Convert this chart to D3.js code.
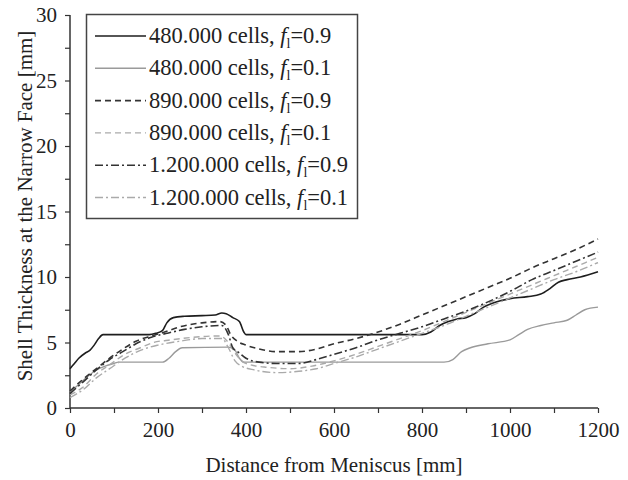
<!DOCTYPE html>
<html><head><meta charset="utf-8">
<script src="https://cdn.jsdelivr.net/npm/d3@7/dist/d3.min.js"></script>
<style>body{margin:0;background:#fff}svg{display:block}svg text{font-family:'Liberation Serif','Times New Roman',Times,'DejaVu Serif',serif !important;fill:#222}</style>
</head><body>
<svg id="c" width="628" height="480"></svg>
<script>
const xTicks = [0,200,400,600,800,1000,1200];
const yTicks = [0,5,10,15,20,25,30];
const seriesNames = ["480.000 cells, ","480.000 cells, ","890.000 cells, ","890.000 cells, ","1.200.000 cells, ","1.200.000 cells, "];
const seriesF = ["0.9","0.1","0.9","0.1","0.9","0.1"];
const s480_09 = [[0,3.0],[10,3.4],[20,3.8],[35,4.2],[45,4.4],[55,4.8],[65,5.3],[75,5.6],[180,5.6],[195,5.7],[210,5.9],[220,6.5],[235,6.9],[260,7.0],[300,7.05],[330,7.1],[345,7.25],[355,7.2],[370,6.9],[385,6.6],[395,5.8],[400,5.6],[800,5.6],[820,5.8],[840,6.3],[860,6.6],[880,6.8],[900,6.9],[920,7.2],[940,7.7],[960,8.0],[980,8.2],[1000,8.35],[1040,8.5],[1070,8.7],[1090,9.1],[1110,9.6],[1130,9.8],[1160,10.0],[1200,10.4]];
const s480_01 = [[0,1.2],[20,1.8],[40,2.4],[60,2.9],[80,3.2],[100,3.4],[110,3.5],[210,3.5],[225,3.8],[240,4.3],[255,4.6],[360,4.65],[375,4.4],[385,3.8],[395,3.5],[850,3.5],[870,3.7],[890,4.3],[910,4.6],[950,4.9],[1000,5.2],[1020,5.6],[1040,6.0],[1070,6.3],[1100,6.5],[1130,6.7],[1150,7.1],[1170,7.5],[1200,7.7]];
const s890_09 = [[0,1.3],[30,2.2],[60,3.0],[90,3.8],[120,4.5],[150,5.1],[185,5.5],[215,5.8],[250,6.2],[300,6.5],[340,6.6],[355,6.3],[365,5.6],[380,5.1],[400,4.8],[430,4.5],[470,4.3],[520,4.3],[560,4.5],[600,4.9],[650,5.3],[700,5.8],[750,6.4],[800,7.1],[850,7.8],[900,8.5],[950,9.2],[1000,9.9],[1050,10.7],[1100,11.4],[1150,12.1],[1200,12.9]];
const s890_01 = [[0,1.0],[30,1.6],[60,2.6],[90,3.3],[125,4.1],[160,4.6],[190,5.0],[230,5.2],[280,5.4],[340,5.5],[360,5.0],[375,4.2],[390,3.6],[410,3.3],[450,3.1],[500,3.0],[550,3.2],[600,3.6],[650,4.1],[700,4.7],[750,5.3],[800,5.9],[850,6.6],[900,7.3],[950,8.0],[1000,8.7],[1050,9.4],[1100,10.1],[1150,10.8],[1200,11.5]];
const s1200_09 = [[0,1.1],[30,2.0],[60,2.9],[90,3.7],[120,4.3],[150,4.9],[185,5.4],[220,5.7],[260,6.0],[300,6.2],[345,6.3],[360,5.6],[370,4.6],[385,4.2],[400,3.8],[430,3.5],[470,3.4],[520,3.4],[560,3.7],[600,4.1],[650,4.6],[700,5.2],[750,5.7],[800,6.2],[850,6.8],[900,7.4],[950,8.1],[1000,8.9],[1050,9.8],[1100,10.5],[1150,11.2],[1200,11.9]];
const s1200_01 = [[0,0.8],[30,1.4],[60,2.3],[90,3.0],[125,3.8],[160,4.4],[200,4.8],[250,5.1],[300,5.3],[345,5.3],[360,4.6],[375,3.6],[390,3.2],[420,2.9],[470,2.7],[520,2.8],[560,3.0],[600,3.4],[650,3.9],[700,4.5],[750,5.1],[800,5.7],[850,6.3],[900,7.0],[950,7.7],[1000,8.4],[1050,9.1],[1100,9.8],[1150,10.4],[1200,11.1]];

const data = [s480_09, s480_01, s890_09, s890_01, s1200_09, s1200_01];
const styles = [
  {c:"#1e1e1e", w:1.6, d:null},
  {c:"#9a9a9a", w:1.4, d:null},
  {c:"#333", w:1.6, d:"6,4"},
  {c:"#aaa", w:1.4, d:"6,4"},
  {c:"#333", w:1.6, d:"8,3,2,3"},
  {c:"#aaa", w:1.4, d:"8,3,2,3"}
];

const svg = d3.select("#c");
const x = d3.scaleLinear().domain([0,1200]).range([70,598]);
const y = d3.scaleLinear().domain([0,30]).range([408,15]);

const xa = svg.append("g").attr("transform","translate(0,408)")
  .call(d3.axisBottom(x).tickValues(d3.range(0,1201,100)).tickSize(5).tickFormat(""));
xa.select(".domain").attr("d","M70,0H598").attr("stroke","#333").attr("stroke-width",1.5);
xa.selectAll(".tick line").attr("stroke","#333").attr("stroke-width",1.2);
const xl = svg.append("g").attr("transform","translate(0,408)")
  .call(d3.axisBottom(x).tickValues(xTicks).tickSize(0).tickPadding(14).tickFormat(d3.format("d")));
xl.select(".domain").remove();
xl.selectAll("text").attr("font-size",21).attr("fill","#222");

const ya = svg.append("g").attr("transform","translate(70,0)")
  .call(d3.axisLeft(y).tickValues(d3.range(0,30.1,2.5)).tickSize(5).tickFormat(""));
ya.select(".domain").attr("d","M0,15V408").attr("stroke","#333").attr("stroke-width",1.5);
ya.selectAll(".tick line").attr("stroke","#333").attr("stroke-width",1.2);
const yl = svg.append("g").attr("transform","translate(70,0)")
  .call(d3.axisLeft(y).tickValues(yTicks).tickSize(0).tickPadding(13).tickFormat(d3.format("d")));
yl.select(".domain").remove();
yl.selectAll("text").attr("font-size",21).attr("fill","#222");

svg.append("text").attr("x",334).attr("y",472).attr("text-anchor","middle").attr("font-size",21).text("Distance from Meniscus [mm]");
svg.append("text").attr("transform","translate(32,206) rotate(-90)").attr("text-anchor","middle").attr("font-size",21).text("Shell Thickness at the Narrow Face [mm]");

const line = d3.line().x(d=>x(d[0])).y(d=>y(d[1])).curve(d3.curveMonotoneX);
data.forEach((s,i)=>{
  svg.append("path").datum(s).attr("d",line).attr("fill","none")
    .attr("stroke",styles[i].c).attr("stroke-width",styles[i].w)
    .attr("stroke-dasharray",styles[i].d);
});

const lg = svg.append("g");
lg.append("rect").attr("x",86.5).attr("y",14.5).attr("width",271).attr("height",204)
  .attr("fill","#fff").attr("stroke","#444").attr("stroke-width",1.5);
seriesNames.forEach((n,i)=>{
  const cy = 36 + i*32.3;
  lg.append("line").attr("x1",95).attr("x2",146).attr("y1",cy).attr("y2",cy)
    .attr("stroke",styles[i].c).attr("stroke-width",styles[i].w).attr("stroke-dasharray",styles[i].d);
  const t = lg.append("text").attr("x",149).attr("y",cy+7).attr("font-size",22.5);
  t.append("tspan").text(n);
  t.append("tspan").attr("font-style","italic").text("f");
  t.append("tspan").attr("font-size",14).attr("dy",5).text("l");
  t.append("tspan").attr("dy",-5).text("="+seriesF[i]);
});
</script>
</body></html>
